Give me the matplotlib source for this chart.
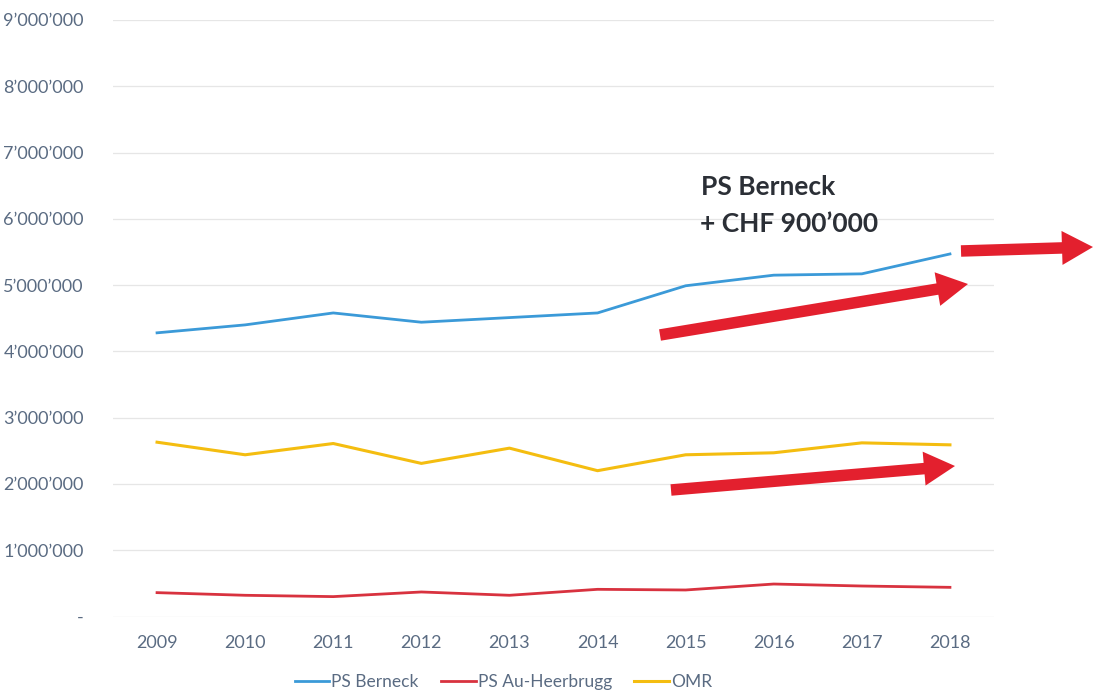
import matplotlib
matplotlib.use("Agg")
import matplotlib.pyplot as plt
from matplotlib.patches import FancyArrow
from matplotlib.transforms import IdentityTransform
from matplotlib.ticker import FuncFormatter

plt.rcParams['font.family'] = ['Lato', 'DejaVu Sans']

years = ['2009', '2010', '2011', '2012', '2013', '2014', '2015', '2016', '2017', '2018']
ps_berneck = [4.28e6, 4.40e6, 4.58e6, 4.44e6, 4.51e6, 4.58e6, 4.99e6, 5.15e6, 5.17e6, 5.47e6]
ps_au = [0.36e6, 0.32e6, 0.30e6, 0.37e6, 0.32e6, 0.41e6, 0.40e6, 0.49e6, 0.46e6, 0.44e6]
omr = [2.63e6, 2.44e6, 2.61e6, 2.31e6, 2.54e6, 2.20e6, 2.44e6, 2.47e6, 2.62e6, 2.59e6]

W, H = 1093, 691
fig = plt.figure(figsize=(W / 100, H / 100), dpi=100)
ax = fig.add_axes([113 / W, (H - 616.5) / H, (994 - 113) / W, (616.5 - 20) / H])

x = list(range(len(years)))
ax.plot(x, ps_berneck, color='#3b9ad8', lw=2.0, label='PS Berneck')
ax.plot(x, ps_au, color='#d8323f', lw=2.0, label='PS Au-Heerbrugg')
ax.plot(x, omr, color='#f4bd10', lw=2.2, label='OMR')

ax.set_xlim(-0.5, len(years) - 0.5)
ax.set_ylim(0, 9e6)
ax.set_yticks([i * 1e6 for i in range(10)])


def fmt(v, pos):
    if v == 0:
        return '-'
    return "{:,.0f}".format(v).replace(',', '\u2019')


ax.yaxis.set_major_formatter(FuncFormatter(fmt))
ax.set_xticks(x)
ax.set_xticklabels(years)
tick_color = '#5a6b82'
ax.tick_params(axis='both', length=0, labelsize=13, colors=tick_color)
ax.tick_params(axis='y', pad=21)
ax.tick_params(axis='x', pad=13)
ax.grid(axis='y', color='#e6e6e6', lw=0.9)
ax.set_axisbelow(True)
for s in ax.spines.values():
    s.set_visible(False)

leg = ax.legend(loc='upper center', bbox_to_anchor=(0.443, -0.07), ncol=3, frameon=False,
                fontsize=12.5, handlelength=2.0, handletextpad=0.1, columnspacing=1.3)
for t in leg.get_texts():
    t.set_color(tick_color)

# annotations (pixel coordinates, origin top-left)
def arrow(x0, y0, x1, y1):
    a = FancyArrow(x0, H - y0, x1 - x0, -(y1 - y0), width=11.5, head_width=34,
                   head_length=31, length_includes_head=True, color='#e3202e',
                   transform=IdentityTransform(), lw=0)
    fig.patches.append(a)

arrow(660, 335, 968, 284)
arrow(671, 490, 955, 466)
arrow(961, 251, 1093, 247)

fig.text(701 / W, (H - 195) / H, 'PS Berneck', fontsize=19, fontweight='bold',
         color='#2b2f36', ha='left', va='baseline')
fig.text(700 / W, (H - 232) / H, '+ CHF 900\u2019000', fontsize=19, fontweight='bold',
         color='#2b2f36', ha='left', va='baseline')

fig.savefig('out.png', dpi=100)
